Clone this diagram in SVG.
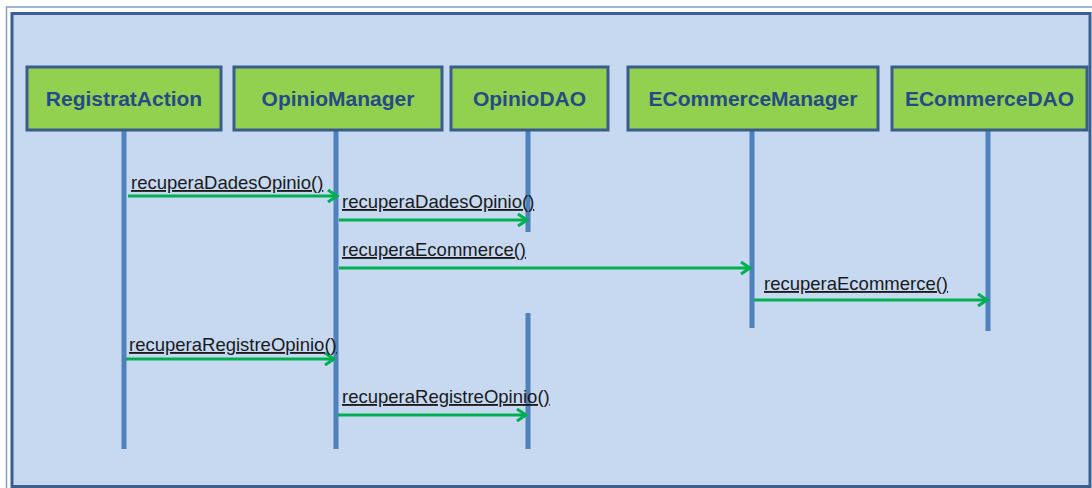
<svg xmlns="http://www.w3.org/2000/svg" width="1092" height="488" viewBox="0 0 1092 488">
<style>
.node rect{fill:#92D050;stroke:#385D8A;stroke-width:3}
.node text{font-family:"Liberation Sans",Arial,sans-serif;font-weight:bold;font-size:21px;fill:#254A86;text-anchor:middle}
.life{stroke:#4F81BD;stroke-width:5}
.msg line{stroke:#00B050;stroke-width:3}
.msg text{font-family:"Liberation Sans",Arial,sans-serif;font-size:18.5px;fill:#1a1a1a;text-decoration:underline}
</style>
<defs>
<marker id="ah" markerWidth="14" markerHeight="14" refX="11" refY="7" orient="auto" markerUnits="userSpaceOnUse">
<path d="M2,1 L11,7 L2,13" fill="none" stroke="#00B050" stroke-width="3"/>
</marker>
</defs>
<rect x="0" y="0" width="1092" height="488" fill="#FFFFFF"/>
<rect x="6.5" y="7" width="1090" height="485" fill="none" stroke="#7FA0CC" stroke-width="1.5"/>
<rect x="12" y="13.5" width="1078" height="473" fill="#C6D9F1" stroke="#3B5F8F" stroke-width="3"/>
<g id="lifelines">
<line class="life" x1="124" y1="130" x2="124" y2="449"/>
<line class="life" x1="336" y1="130" x2="336" y2="449"/>
<line class="life" x1="528" y1="130" x2="528" y2="232"/>
<line class="life" x1="528" y1="313" x2="528" y2="449"/>
<line class="life" x1="752" y1="130" x2="752" y2="328"/>
<line class="life" x1="988" y1="130" x2="988" y2="331"/>
</g>
<g id="n1" class="node"><rect x="27" y="67" width="194" height="63"/><text x="124" y="106">RegistratAction</text></g>
<g id="n2" class="node"><rect x="234" y="67" width="208" height="63"/><text x="338" y="106">OpinioManager</text></g>
<g id="n3" class="node"><rect x="451" y="67" width="157" height="63"/><text x="529.5" y="106">OpinioDAO</text></g>
<g id="n4" class="node"><rect x="628" y="67" width="250" height="63"/><text x="753" y="106">ECommerceManager</text></g>
<g id="n5" class="node"><rect x="892" y="67" width="195" height="63"/><text x="989.5" y="106">ECommerceDAO</text></g>
<g id="connectors">
<g class="msg"><line x1="128" y1="196" x2="337" y2="196" marker-end="url(#ah)"/><text x="131" y="189">recuperaDadesOpinio()</text></g>
<g class="msg"><line x1="339" y1="220" x2="527" y2="220" marker-end="url(#ah)"/><text x="342" y="208">recuperaDadesOpinio()</text></g>
<g class="msg"><line x1="339" y1="268" x2="750" y2="268" marker-end="url(#ah)"/><text x="342" y="256">recuperaEcommerce()</text></g>
<g class="msg"><line x1="754" y1="300" x2="987" y2="300" marker-end="url(#ah)"/><text x="764" y="290">recuperaEcommerce()</text></g>
<g class="msg"><line x1="126" y1="359" x2="334" y2="359" marker-end="url(#ah)"/><text x="129" y="351">recuperaRegistreOpinio()</text></g>
<g class="msg"><line x1="338" y1="415" x2="526" y2="415" marker-end="url(#ah)"/><text x="342" y="403">recuperaRegistreOpinio()</text></g>
</g>
</svg>
